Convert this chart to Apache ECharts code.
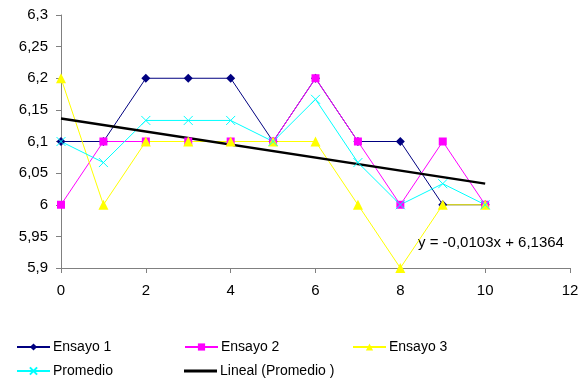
<!DOCTYPE html>
<html><head><meta charset="utf-8">
<script src="https://cdn.jsdelivr.net/npm/echarts@6/dist/echarts.min.js"></script>
<style>html,body{margin:0;padding:0;background:#fff}#c{width:585px;height:383px}</style>
</head><body><div id="c"></div>
<script>
var xs = [0,1,2,3,4,5,6,7,8,9,10];
var ensayo1 = [6.1,6.1,6.2,6.2,6.2,6.1,6.2,6.1,6.1,6.0,6.0];
var ensayo2 = [6.0,6.1,6.1,6.1,6.1,6.1,6.2,6.1,6.0,6.1,6.0];
var ensayo3 = [6.2,6.0,6.1,6.1,6.1,6.1,6.1,6.0,5.9,6.0,6.0];
var promedio = [6.1,6.0667,6.1333,6.1333,6.1333,6.1,6.1667,6.0667,6.0,6.0333,6.0];
var trendSlope = -0.0103, trendIntercept = 6.1364;
var trendX = [0,10];
var yTicks = ['5,9','5,95','6','6,05','6,1','6,15','6,2','6,25','6,3'];
var equationText = 'y = -0,0103x + 6,1364';

function pts(arr){ return xs.map(function(x,i){ return [x, arr[i]]; }); }
var trend = trendX.map(function(x){ return [x, trendIntercept + trendSlope*x]; });
var FONT = 'Liberation Sans';
var crossPath = 'path://M0,0 L10,10 M10,0 L0,10';
function lg(name, left, top, extra){
  var o = {data:[name], left:left, top:top, itemWidth:33, itemHeight:9, itemGap:0,
    textStyle:{fontFamily:FONT, fontSize:14, color:'#000', padding:[0,0,0,-2]}, padding:0};
  if (extra) for (var k in extra) o[k] = extra[k];
  return o;
}
var chart = echarts.init(document.getElementById('c'));
chart.setOption({
  animation:false,
  textStyle:{fontFamily:FONT},
  grid:{left:61, right:15, top:15, bottom:115},
  xAxis:{type:'value', min:0, max:12, interval:2,
    axisLine:{lineStyle:{color:'#808080', width:1}},
    axisTick:{show:true, length:5, lineStyle:{color:'#808080'}},
    splitLine:{show:false},
    axisLabel:{color:'#000', fontSize:15, fontFamily:FONT, margin:15}},
  yAxis:{type:'value', min:5.9, max:6.3, interval:0.05,
    axisLine:{show:true, lineStyle:{color:'#808080', width:1}},
    axisTick:{show:true, length:5, lineStyle:{color:'#808080'}},
    splitLine:{show:false},
    axisLabel:{color:'#000', fontSize:15, fontFamily:FONT, margin:13,
      formatter:function(v){ var i=Math.round((v-5.9)/0.05); return yTicks[i]; }}},
  legend:[lg('Ensayo 1',16,340), lg('Ensayo 2',184,340), lg('Ensayo 3',352,340),
          lg('Promedio',16,364),
          lg('Lineal (Promedio )',184,364,{data:[{name:'Lineal (Promedio )', icon:'rect'}], itemHeight:3})],
  series:[
    {name:'Ensayo 1', type:'line', data:pts(ensayo1), symbol:'diamond', symbolSize:9,
     lineStyle:{color:'#000080', width:1}, itemStyle:{color:'#000080'}},
    {name:'Ensayo 2', type:'line', data:pts(ensayo2), symbol:'rect', symbolSize:8,
     lineStyle:{color:'#FF00FF', width:1}, itemStyle:{color:'#FF00FF'}},
    {name:'Ensayo 3', type:'line', data:pts(ensayo3), symbol:'triangle', symbolSize:10,
     lineStyle:{color:'#FFFF00', width:1}, itemStyle:{color:'#FFFF00'}},
    {name:'Promedio', type:'line', data:pts(promedio), symbol:crossPath, symbolSize:9,
     lineStyle:{color:'#00FFFF', width:1}, itemStyle:{color:'#00FFFF', borderColor:'#00FFFF', borderWidth:1}},
    {name:'Lineal (Promedio )', type:'line', data:trend, symbol:'none',
     lineStyle:{color:'#000', width:2.5}, itemStyle:{color:'#000'}}
  ],
  graphic:[{type:'text', left:418, top:235,
    style:{text:equationText, font:'15px "Liberation Sans"', fill:'#000'}}]
});
</script></body></html>
